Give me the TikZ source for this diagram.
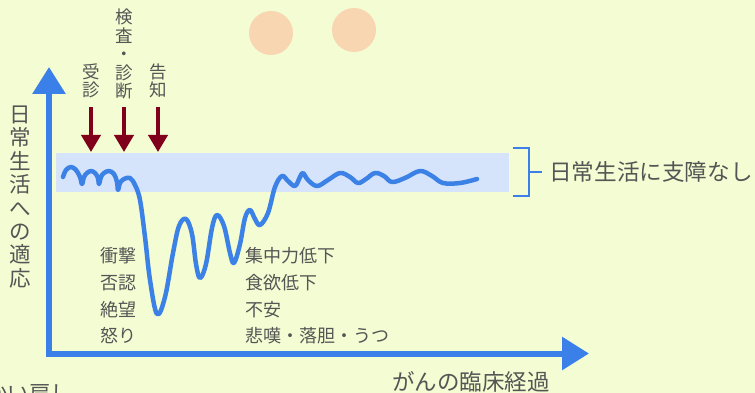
\documentclass[tikz,border=0pt]{standalone}
\usepackage{fontspec}
\setmainfont{Noto Sans CJK JP}
\usetikzlibrary{arrows.meta}
\definecolor{bgc}{RGB}{243,252,210}
\definecolor{bandc}{RGB}{213,228,250}
\definecolor{axisc}{RGB}{58,128,232}
\definecolor{curvec}{RGB}{60,130,230}
\definecolor{redc}{RGB}{128,0,28}
\definecolor{txtc}{RGB}{85,85,85}
\definecolor{peach}{RGB}{249,214,178}
\tikzset{
  axisline/.style={draw=axisc, line width=6pt, -{Triangle[length=27pt,width=32pt]}},
  redarrow/.style={draw=redc, line width=4pt, -{Triangle[length=17pt,width=19pt]}},
  lbl/.style={text=txtc, font=\fontsize{18}{25}\selectfont, inner sep=0pt, anchor=west},
  vlbl/.style={text=txtc, font=\fontsize{17.5}{18.5}\selectfont, inner sep=0pt, align=center},
  biglbl/.style={text=txtc, font=\fontsize{21.5}{23.4}\selectfont, inner sep=0pt},
  wave/.style={draw=curvec, line width=4.5pt, line cap=round, line join=round},
}
\begin{document}
\begin{tikzpicture}[x=1pt,y=-1pt]
\fill[bgc] (0,0) rectangle (755,393);
\useasboundingbox (0,0) rectangle (755,393);
% decorative circles
\fill[peach] (271,33) circle (22);
\fill[peach] (354,30) circle (22);
% band
\fill[bandc] (56,153) rectangle (509,192);
% bracket
\coordinate (bt1) at (513,148);
\coordinate (bt2) at (529,148);
\coordinate (bb1) at (513,196);
\coordinate (bb2) at (529,196);
\coordinate (bm1) at (529,172);
\coordinate (bm2) at (542,172);
\draw[axisc, line width=2.5pt] (bt1) -- (bt2) -- (bb2) -- (bb1);
\draw[axisc, line width=2.5pt] (bm1) -- (bm2);
\node[biglbl, anchor=west, font=\fontsize{22.6}{24}\selectfont] (ok) at (549,172) {日常生活に支障なし};
% axes
\coordinate (origin) at (46,353.5);
\coordinate (ytip) at (49,67);
\coordinate (xtip) at (589,353.5);
\draw[axisline] (49,356.5) -- (ytip);
\draw[axisline] (46,353.5) -- (xtip);
\node[biglbl, align=center] (ylab) at (20,197) {日\\常\\生\\活\\へ\\の\\適\\応};
\node[biglbl, font=\fontsize{22.5}{24}\selectfont] (xlab) at (471,382) {がんの臨床経過};
% top arrows
\node[vlbl] (l1) at (91,81) {受\\診};
\node[vlbl] (l2) at (124,54) {検\\査\\・\\診\\断};
\node[vlbl] (l3) at (158,81) {告\\知};
\coordinate (a1s) at (91,107); \coordinate (a1e) at (91,152);
\coordinate (a2s) at (124,107); \coordinate (a2e) at (124,152);
\coordinate (a3s) at (158,107); \coordinate (a3e) at (158,152);
\draw[redarrow] (a1s) -- (a1e);
\draw[redarrow] (a2s) -- (a2e);
\draw[redarrow] (a3s) -- (a3e);
% curve
\draw[wave] plot[smooth, tension=0.6] coordinates {
(63,177) (66,170) (71,167) (76,170) (80,177) (82,184) (84,177) (87,173) (91,171) (95,173) (98,178) (99,184) (101,177) (104,173) (109,171) (114,174) (117,182) (118,190) (120,183) (124,179) (130,178) (135,185)
(140,200) (145,237) (150,280) (157,314) (165,297) (173,253) (179,226) (186,219) (192,234) (196,264) (200,278) (206,264) (212,228) (217,215) (224,226) (230,253) (234,263) (240,244) (245,218) (250,210) (255,219) (260,225) (268,213) (275,187) (282,176)
(288,181) (295,186) (300,177) (303,173) (308,180) (317,186) (328,180) (340,173) (350,177) (358,183) (366,179) (375,173) (384,176) (392,182) (405,178) (420,171) (432,176) (443,183) (460,183) (477,179)};
% reaction labels
\node[lbl] (e1) at (100,256) {衝撃};
\node[lbl] (e2) at (100,283) {否認};
\node[lbl] (e3) at (100,310) {絶望};
\node[lbl] (e4) at (100,336) {怒り};
\node[lbl] (r1) at (245,256) {集中力低下};
\node[lbl] (r2) at (245,283) {食欲低下};
\node[lbl] (r3) at (245,310) {不安};
\node[lbl] (r4) at (245,336) {悲嘆・落胆・うつ};
% cut-off text at bottom left
\begin{scope}
\clip (0,0) rectangle (755,393);
\node[biglbl, anchor=base west] (cut) at (-14,401) {かい肩し};
\end{scope}
\end{tikzpicture}
\end{document}
